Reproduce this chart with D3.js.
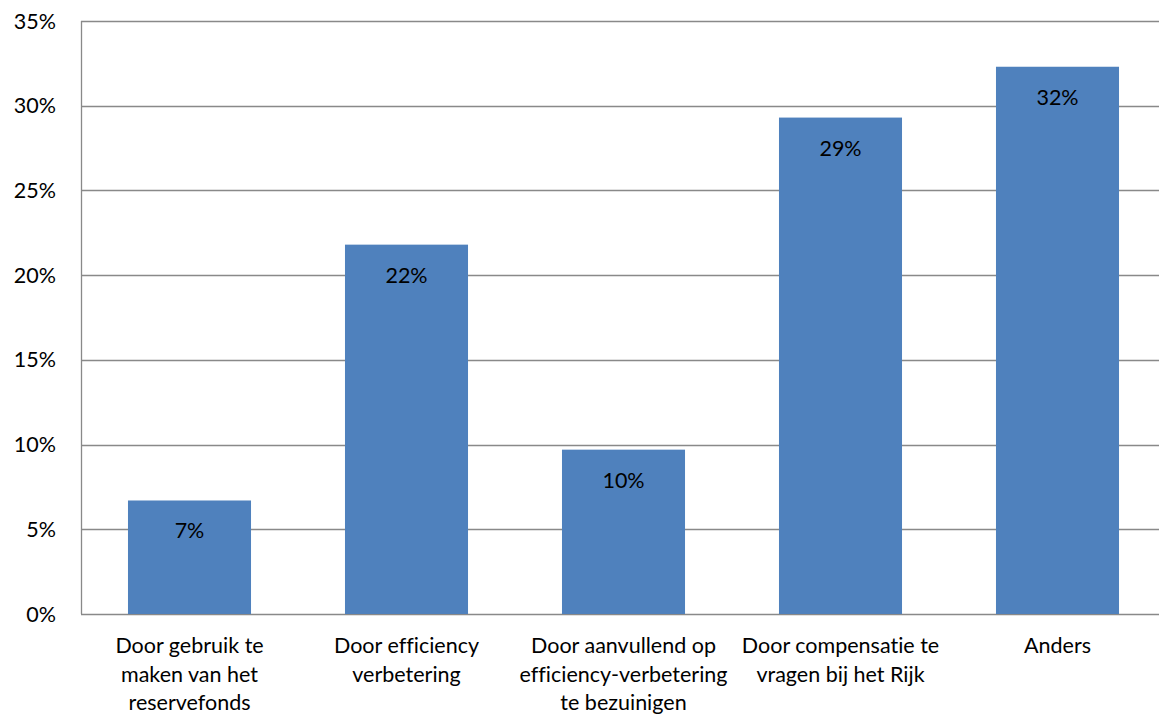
<!DOCTYPE html>
<html>
<head>
<meta charset="utf-8">
<script src="https://cdn.jsdelivr.net/npm/d3@7"></script>
<style>
  body { margin: 0; background: #fff; }
  svg text { font-family: Lato, "Open Sans", sans-serif; fill: #000; font-variant-ligatures: none; }
</style>
</head>
<body>
<svg id="chart" width="1159" height="715"></svg>
<script>
// categories, each label already split in lines as in the original
var categories = [
  ["Door gebruik te", "maken van het", "reservefonds"],
  ["Door efficiency", "verbetering"],
  ["Door aanvullend op", "efficiency-verbetering", "te bezuinigen"],
  ["Door compensatie te", "vragen bij het Rijk"],
  ["Anders"]
];
var values = [6.7, 21.8, 9.7, 29.3, 32.3];
var labels = ["7%", "22%", "10%", "29%", "32%"];
var yTicks = [0, 5, 10, 15, 20, 25, 30, 35];

var plotLeft = 81, plotTop = 21, plotRight = 1166, plotBottom = 614;
var fontSize = "21.5px";
var svg = d3.select("#chart");

var x = d3.scaleBand()
  .domain(d3.range(categories.length))
  .range([plotLeft, plotRight])
  .paddingInner(0.433)
  .paddingOuter(0.2165);

var y = d3.scaleLinear().domain([0, 35]).range([plotBottom, plotTop]);

// grid lines
svg.append("g")
  .selectAll("line")
  .data(yTicks)
  .enter().append("line")
  .attr("x1", plotLeft).attr("x2", plotRight)
  .attr("y1", function(d) { return Math.round(y(d)) + 0.5; })
  .attr("y2", function(d) { return Math.round(y(d)) + 0.5; })
  .attr("stroke", "#898989")
  .attr("stroke-width", 1.3);

// y axis line
svg.append("line")
  .attr("x1", plotLeft + 0.5).attr("x2", plotLeft + 0.5)
  .attr("y1", plotTop).attr("y2", plotBottom)
  .attr("stroke", "#898989")
  .attr("stroke-width", 1.3);

// tick labels
svg.append("g")
  .selectAll("text")
  .data(yTicks)
  .enter().append("text")
  .attr("x", 56)
  .attr("y", function(d) { return y(d) + 7.5; })
  .attr("text-anchor", "end")
  .style("font-size", fontSize)
  .text(function(d) { return d + "%"; });

// bars
svg.append("g")
  .selectAll("rect")
  .data(values)
  .enter().append("rect")
  .attr("x", function(d, i) { return x(i); })
  .attr("y", function(d) { return y(d); })
  .attr("width", x.bandwidth())
  .attr("height", function(d) { return plotBottom - y(d); })
  .attr("fill", "#4F81BD");

// value labels inside the bars
svg.append("g")
  .selectAll("text")
  .data(values)
  .enter().append("text")
  .attr("x", function(d, i) { return x(i) + x.bandwidth() / 2; })
  .attr("y", function(d) { return y(d) + 38; })
  .attr("text-anchor", "middle")
  .style("font-size", fontSize)
  .text(function(d, i) { return labels[i]; });

// category labels
var cat = svg.append("g")
  .selectAll("text")
  .data(categories)
  .enter().append("text")
  .attr("text-anchor", "middle")
  .style("font-size", fontSize)
  .attr("transform", function(d, i) {
    return "translate(" + (x(i) + x.bandwidth() / 2) + ",653)";
  });

cat.selectAll("tspan")
  .data(function(d) { return d; })
  .enter().append("tspan")
  .attr("x", 0)
  .attr("y", function(d, j) { return j * 28.5; })
  .text(function(d) { return d; });
</script>
</body>
</html>
